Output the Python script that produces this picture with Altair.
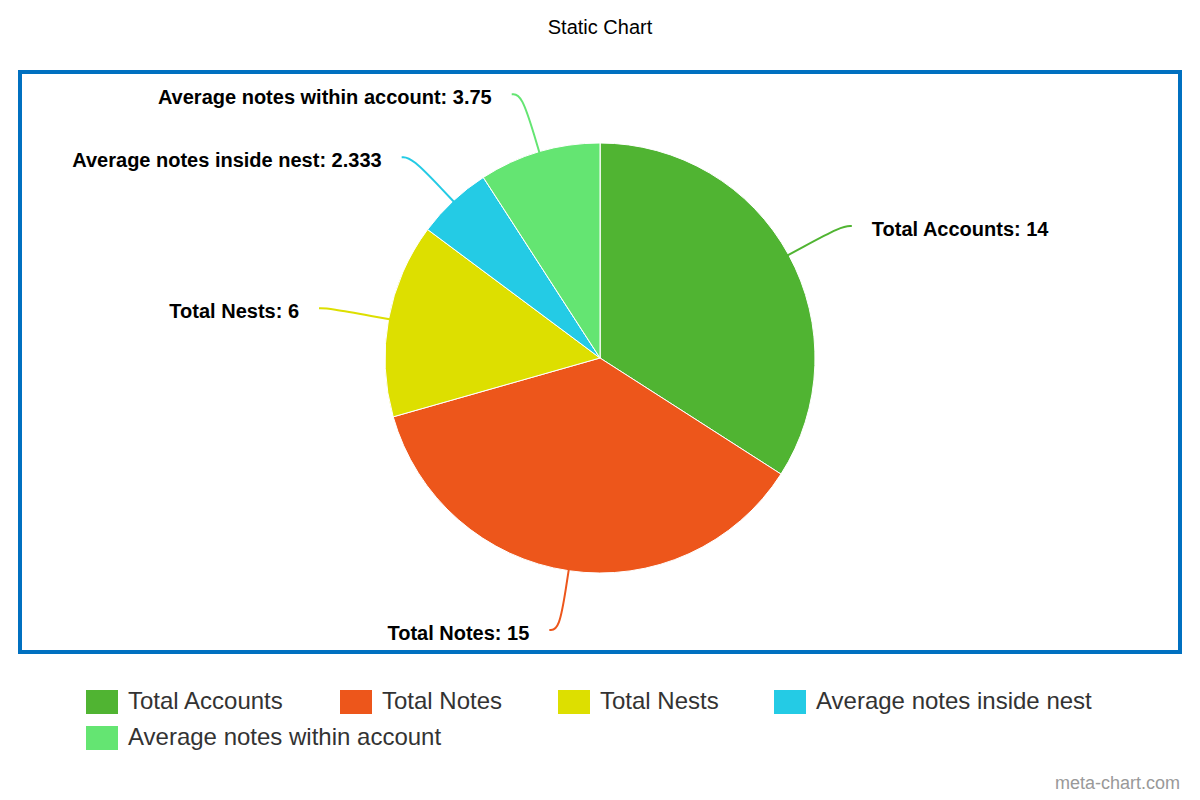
import altair as alt
import pandas as pd

# ---- data ----
categories = [
    "Total Accounts",
    "Total Notes",
    "Total Nests",
    "Average notes inside nest",
    "Average notes within account",
]
values = [14, 15, 6, 2.333, 3.75]
colors = ["#50B432", "#ED561B", "#DDDF00", "#24CBE5", "#64E572"]
title_text = "Static Chart"
credit_text = "meta-chart.com"

# ---- layout (pixels inside the view) ----
W, H = 1184, 784
CX, CY, R = 592, 350, 215
LD = 275     # label distance circle
LPAD = 10.5  # extra horizontal padding of the label anchor

FONT = "Liberation Sans, Arial, Helvetica, sans-serif"

df = pd.DataFrame({"category": categories, "value": values, "idx": list(range(len(categories)))})
total_value = float(sum(values))

xs = alt.Scale(domain=[0, W], nice=False, zero=False)
ys = alt.Scale(domain=[0, H], reverse=True, nice=False, zero=False)
theta_scale = alt.Scale(domain=[0, total_value], zero=True, nice=False)

base = (
    alt.Chart(df)
    .transform_joinaggregate(total="sum(value)")
    .transform_window(cum="sum(value)", sort=[alt.SortField("idx", order="ascending")], frame=[None, 0])
    .transform_calculate(
        t0="datum.cum - datum.value",
        t1="datum.cum",
        mid="(datum.cum - datum.value / 2) / datum.total * 2 * PI",
    )
    .transform_calculate(
        side="sin(datum.mid) >= 0 ? 1 : -1",
    )
    .transform_calculate(
        ax=f"{CX} + {LD} * sin(datum.mid) + datum.side * {LPAD}",
        ay=f"{CY} - {LD} * cos(datum.mid)",
    )
)

legend_common = dict(
    title=None,
    orient="none",
    legendX=78,
    direction="horizontal",
    columnPadding=55,
    rowPadding=4,
    symbolType="M-1,-0.75H1V0.75H-1Z",
    symbolSize=1024,
    symbolStrokeWidth=0,
    symbolOpacity=1,
    labelFont=FONT,
    labelFontSize=24,
    labelColor="#333333",
    labelLimit=600,
    labelOffset=10,
    padding=0,
)

arcs = base.mark_arc(radius=R, stroke="white", strokeWidth=1).encode(
    theta=alt.Theta("t0:Q", stack=None, scale=theta_scale),
    theta2="t1:Q",
    color=alt.Color(
        "category:N",
        scale=alt.Scale(domain=categories, range=colors),
        sort=categories,
        legend=alt.Legend(values=categories[:4], legendY=678, columns=4, **legend_common),
    ),
    x=alt.value(CX),
    y=alt.value(CY),
)

# last slice drawn again (identically) so that it gets the second legend row
arc_last = (
    base.transform_filter(f"datum.idx == {len(categories) - 1}")
    .mark_arc(radius=R, stroke="white", strokeWidth=1)
    .encode(
        theta=alt.Theta("t0:Q", stack=None, scale=theta_scale),
        theta2="t1:Q",
        fill=alt.Fill(
            "category:N",
            scale=alt.Scale(domain=categories[-1:], range=colors[-1:]),
            legend=alt.Legend(legendY=714, columns=1, **legend_common),
        ),
        x=alt.value(CX),
        y=alt.value(CY),
    )
)

connectors = (
    base.transform_calculate(k0="0", k1="1", k2="2", k3="3")
    .transform_fold(["k0", "k1", "k2", "k3"], as_=["pk", "pi"])
    .transform_calculate(p="toNumber(datum.pi)")
    .transform_calculate(
        px=(
            f"datum.p == 0 ? {CX} + {R - 2} * sin(datum.mid) : "
            f"datum.p == 1 ? {CX} + {R + 12} * sin(datum.mid) : "
            "datum.p == 2 ? datum.ax - datum.side * 10 : datum.ax"
        ),
        py=(
            f"datum.p == 0 ? {CY} - {R - 2} * cos(datum.mid) : "
            f"datum.p == 1 ? {CY} - {R + 12} * cos(datum.mid) : "
            "datum.ay"
        ),
    )
    .mark_line(interpolate="basis", strokeWidth=2)
    .encode(
        x=alt.X("px:Q", scale=xs, axis=None),
        y=alt.Y("py:Q", scale=ys, axis=None),
        order=alt.Order("p:Q"),
        detail="category:N",
        stroke=alt.Stroke("category:N", scale=alt.Scale(domain=categories, range=colors), legend=None),
    )
)

label_common = dict(baseline="middle", font=FONT, fontSize=20, fontWeight="bold", color="#000000", dy=4)

labels_right = (
    base.transform_filter("datum.side > 0")
    .transform_calculate(tx="datum.ax + 20", label="datum.category + ': ' + datum.value")
    .mark_text(align="left", **label_common)
    .encode(
        x=alt.X("tx:Q", scale=xs, axis=None),
        y=alt.Y("ay:Q", scale=ys, axis=None),
        text="label:N",
    )
)

labels_left = (
    base.transform_filter("datum.side < 0")
    .transform_calculate(tx="datum.ax - 20", label="datum.category + ': ' + datum.value")
    .mark_text(align="right", **label_common)
    .encode(
        x=alt.X("tx:Q", scale=xs, axis=None),
        y=alt.Y("ay:Q", scale=ys, axis=None),
        text="label:N",
    )
)

one = pd.DataFrame({"title": [title_text], "credit": [credit_text]})

border = alt.Chart(one).mark_rect(fillOpacity=0, stroke="#0070c0", strokeWidth=4).encode(
    x=alt.value(12), x2=alt.value(1172), y=alt.value(64), y2=alt.value(644)
)

title = alt.Chart(one).mark_text(
    font=FONT, fontSize=20, color="#000000", align="center", baseline="middle"
).encode(x=alt.value(592), y=alt.value(20), text="title:N")

credit = alt.Chart(one).mark_text(
    font=FONT, fontSize=18, color="#999999", align="right", baseline="middle"
).encode(x=alt.value(1172), y=alt.value(776), text="credit:N")

chart = (
    alt.layer(border, arcs, arc_last, connectors, labels_right, labels_left, title, credit)
    .properties(width=W, height=H, autosize=alt.AutoSizeParams(type="none"), padding=0)
    .configure_view(stroke=None)
)

chart.save("out.html", embed_options={"renderer": "svg", "actions": False})
